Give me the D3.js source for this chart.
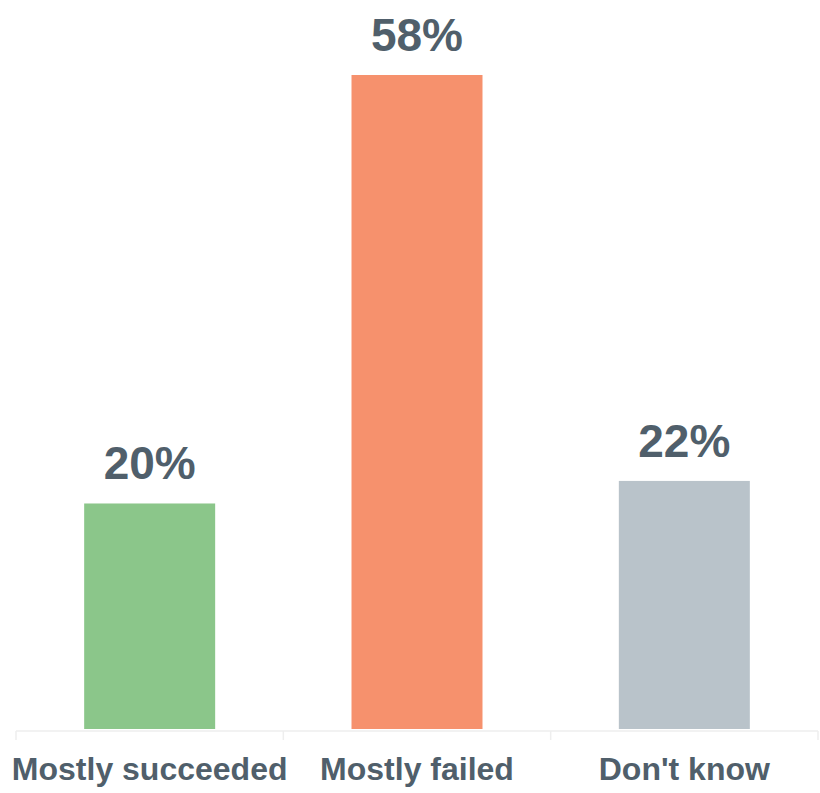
<!DOCTYPE html>
<html>
<head>
<meta charset="utf-8">
<script src="https://cdn.jsdelivr.net/npm/d3@7"></script>
<style>
  body { margin: 0; background: #fff; }
  svg { display: block; font-family: "Liberation Sans", Arial, sans-serif; }
  .axis path, .axis line { stroke: #eeeeee; stroke-width: 1.5; }
  .axis text { fill: #505f6b; font-size: 32px; font-weight: bold; }
</style>
</head>
<body>
<div id="chart"></div>
<script>
var categories = ["Mostly succeeded", "Mostly failed", "Don't know"];
var values = [20, 58, 22];
var colors = ["#8bc68a", "#f6916d", "#b9c3ca"];

var width = 820, height = 793;

var svg = d3.select("#chart").append("svg")
	.attr("width", width)
	.attr("height", height);

var x = d3.scaleBand()
	.domain(categories)
	.range([16, 818])
	.paddingInner(0.51)
	.paddingOuter(0.255);

var y = d3.scaleLinear()
	.domain([0, 58])
	.range([729, 75]);

// axis along the bottom, ticks between categories
var axis = svg.append("g")
	.attr("class", "axis")
	.attr("transform", "translate(0,731)");

axis.append("line")
	.attr("x1", 16).attr("x2", 818)
	.attr("y1", 0).attr("y2", 0);

var step = x.step();
var edges = [16, 16 + (818 - 16) / 3, 16 + 2 * (818 - 16) / 3, 818];
axis.selectAll(".tk")
	.data(edges)
	.enter()
	.append("line")
	.attr("class", "tk")
	.attr("x1", function(d){ return d; })
	.attr("x2", function(d){ return d; })
	.attr("y1", 0)
	.attr("y2", 9);

axis.selectAll("text")
	.data(categories)
	.enter()
	.append("text")
	.attr("x", function(d){ return x(d) + x.bandwidth() / 2; })
	.attr("y", 49)
	.attr("text-anchor", "middle")
	.text(function(d){ return d; });

svg.selectAll(".bar")
	.data(values)
	.enter()
	.append("rect")
	.attr("class", "bar")
	.attr("x", function(d, i){ return x(categories[i]); })
	.attr("y", function(d){ return y(d); })
	.attr("width", x.bandwidth())
	.attr("height", function(d){ return y(0) - y(d); })
	.attr("fill", function(d, i){ return colors[i]; });

svg.selectAll(".val")
	.data(values)
	.enter()
	.append("text")
	.attr("class", "val")
	.attr("x", function(d, i){ return x(categories[i]) + x.bandwidth() / 2; })
	.attr("y", function(d){ return y(d) - 24; })
	.attr("text-anchor", "middle")
	.attr("fill", "#505f6b")
	.attr("font-size", "46px")
	.attr("font-weight", "bold")
	.text(function(d){ return d + "%"; });
</script>
</body>
</html>
